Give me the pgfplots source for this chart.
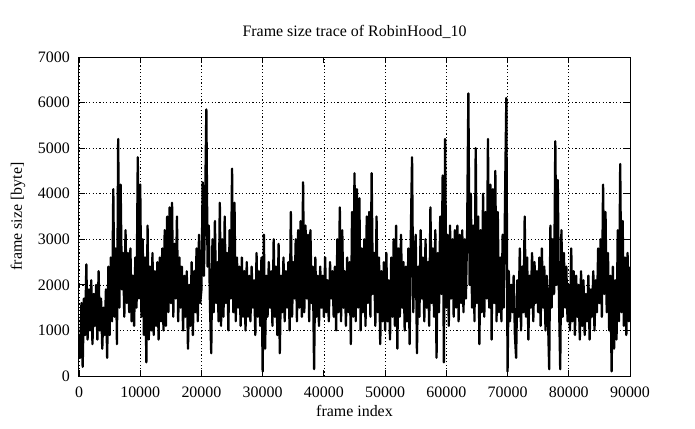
\documentclass[border=0pt]{standalone}
\usepackage{fontspec}
\setmainfont{Liberation Serif}
\usepackage{pgfplots}
\pgfplotsset{compat=1.18}
\usetikzlibrary{calc}

\begin{document}
\fontsize{16}{19}\selectfont
\begin{tikzpicture}
\begin{axis}[
    scale only axis,
    width=551bp, height=319bp,
    xmin=0, xmax=90000, ymin=0, ymax=7000,
    xtick={0,10000,...,90000},
    ytick={0,1000,...,7000},
    scaled ticks=false,
    /pgf/number format/.cd, fixed, 1000 sep={}, assume math mode=true, /pgfplots/.cd,
    tick align=inside,
    major tick length=6bp,
    tick style={black, line width=0.8bp},
    axis line style={black, line width=1bp},
    grid=major,
    grid style={black, line width=0.7bp, dash pattern=on 1.2bp off 2.2bp},
    xticklabel style={anchor=north, inner sep=0pt, yshift=-10.5bp},
    yticklabel style={anchor=east, inner sep=0pt, xshift=-9bp},
    title={Frame size trace of RobinHood\_10},
    title style={at={(axis description cs:0.5,1)}, anchor=base, yshift=14.5bp, inner sep=0pt},
    xlabel={frame index},
    xlabel style={at={(axis description cs:0.5,-0.1097)}, anchor=center, inner sep=0pt},
    ylabel={frame size [byte]},
    ylabel style={at={(axis description cs:-0.1107,0.5)}, anchor=center, inner sep=0pt},
]
\addplot[black, line width=2.3bp, line join=round, mark=none] coordinates {
(0,900)(200,400)(400,1600)(600,200)(800,1700)(1000,900)(1200,2450)(1400,800)(1600,1900)(1800,1000)(2000,2100)(2200,700)(2400,1800)(2600,1100)(2800,2000)(3000,800)(3200,2300)(3400,1000)(3600,1700)(3800,600)(4000,1500)(4200,900)(4400,1900)(4600,400)(4800,2400)
(5000,900)(5200,2600)(5400,1200)(5600,4100)(5800,1300)(6000,2800)(6200,700)(6400,5200)(6600,1500)(6800,4200)(7000,1900)(7200,2700)(7400,1300)(7600,3200)(7800,1600)(8000,2700)(8200,1400)(8400,2800)(8600,1200)(8800,2200)(9000,1100)(9200,2600)(9400,1500)(9600,4800)(9800,1700)
(10000,4200)(10200,1300)(10400,3000)(10600,900)(10800,2600)(11000,300)(11200,3300)(11400,800)(11600,2400)(11800,1000)(12000,2700)(12200,900)(12400,2300)(12600,1100)(12800,2500)(13000,800)(13200,2600)(13400,1200)(13600,2800)(13800,1000)(14000,3200)(14200,1100)(14400,3500)(14600,1400)(14800,3700)
(15000,1600)(15200,3800)(15400,1300)(15600,2900)(15800,1700)(16000,3500)(16200,1200)(16400,2600)(16600,1500)(16800,2400)(17000,1000)(17200,2200)(17400,1300)(17600,2300)(17800,600)(18000,2000)(18200,1100)(18400,2500)(18600,900)(18800,2300)(19000,1400)(19200,2800)(19400,1200)(19600,3100)(19800,1600)
(20000,1900)(20200,4250)(20400,2200)(20600,3700)(20800,5850)(21000,2400)(21200,3300)(21400,1500)(21600,500)(21800,3000)(22000,1400)(22200,3400)(22400,1600)(22600,2500)(22800,1200)(23000,3800)(23200,1100)(23400,3000)(23600,1300)(23800,3500)(24000,1600)(24200,2700)(24400,1000)(24600,3200)(24800,1700)
(25000,4550)(25200,1400)(25400,3800)(25600,1200)(25800,2600)(26000,1500)(26200,2400)(26400,1100)(26600,2600)(26800,1300)(27000,2300)(27200,1000)(27400,2500)(27600,1300)(27800,2200)(28000,1200)(28200,2400)(28400,1500)(28600,2100)(28800,900)(29000,2700)(29200,1300)(29400,2300)(29600,1100)(29800,2600)
(30000,100)(30200,3100)(30400,600)(30600,2200)(30800,1300)(31000,2500)(31200,1500)(31400,2300)(31600,1100)(31800,3000)(32000,1300)(32200,2400)(32400,900)(32600,2900)(32800,500)(33000,2200)(33200,1400)(33400,2600)(33600,1200)(33800,2300)(34000,1500)(34200,2500)(34400,1000)(34600,3600)(34800,1300)
(35000,2500)(35200,1700)(35400,3000)(35600,1200)(35800,3200)(36000,1500)(36200,3400)(36400,1300)(36600,4250)(36800,1400)(37000,3300)(37200,1700)(37400,3100)(37600,1200)(37800,3200)(38000,1600)(38200,2400)(38400,150)(38600,2600)(38800,1300)(39000,2200)(39200,1100)(39400,2400)(39600,1500)(39800,2200)
(40000,1300)(40200,2600)(40400,1400)(40600,2100)(40800,1200)(41000,2500)(41200,1700)(41400,2300)(41600,1300)(41800,2400)(42000,1000)(42200,3000)(42400,1400)(42600,3700)(42800,1200)(43000,3200)(43200,1500)(43400,2300)(43600,1100)(43800,2600)(44000,1400)(44200,2500)(44400,700)(44600,3600)(44800,1300)
(45000,4450)(45200,1200)(45400,4100)(45600,1500)(45800,3900)(46000,1000)(46200,2800)(46400,1400)(46600,3000)(46800,1100)(47000,3500)(47200,1600)(47400,3600)(47600,1300)(47800,4450)(48000,1800)(48200,2700)(48400,1100)(48600,3500)(48800,1400)(49000,2600)(49200,700)(49400,2300)(49600,1200)(49800,2500)
(50000,1000)(50200,2700)(50400,1200)(50600,2100)(50800,800)(51000,2600)(51200,1300)(51400,3000)(51600,1100)(51800,3300)(52000,600)(52200,2800)(52400,1300)(52600,3100)(52800,1500)(53000,2500)(53200,1000)(53400,2400)(53600,1200)(53800,2800)(54000,700)(54200,3100)(54400,4800)(54600,1400)(54800,2600)
(55000,3100)(55200,500)(55400,2400)(55600,1300)(55800,3200)(56000,1700)(56200,2600)(56400,1200)(56600,3000)(56800,1500)(57000,2500)(57200,1100)(57400,3700)(57600,1600)(57800,2800)(58000,1300)(58200,3200)(58400,400)(58600,2700)(58800,1400)(59000,3500)(59200,1800)(59400,4400)(59600,300)(59800,5200)
(60000,1500)(60200,3100)(60400,1100)(60600,3300)(60800,1700)(61000,3000)(61200,1300)(61400,3200)(61600,1500)(61800,3300)(62000,1200)(62200,3100)(62400,1600)(62600,3200)(62800,1400)(63000,3000)(63200,1700)(63400,3200)(63600,6200)(63800,2000)(64000,4000)(64200,1500)(64400,3300)(64600,1200)(64800,5000)
(65000,1600)(65200,3500)(65400,700)(65600,3200)(65800,1400)(66000,4000)(66200,1300)(66400,3600)(66600,1700)(66800,5200)(67000,1500)(67200,4200)(67400,800)(67600,4100)(67800,1600)(68000,4500)(68200,1200)(68400,3600)(68600,1400)(68800,2600)(69000,1200)(69200,3100)(69400,1500)(69600,4000)(69800,6100)
(70000,100)(70200,2300)(70400,1200)(70600,2000)(70800,1400)(71000,2200)(71200,900)(71400,400)(71600,2100)(71800,1300)(72000,2800)(72200,1000)(72400,2400)(72600,1400)(72800,3500)(73000,1300)(73200,2600)(73400,800)(73600,2200)(73800,1500)(74000,2700)(74200,1200)(74400,2500)(74600,1600)(74800,2300)
(75000,1400)(75200,2600)(75400,1100)(75600,2800)(75800,1500)(76000,2400)(76200,1000)(76400,2200)(76600,1300)(76800,150)(77000,3300)(77200,1500)(77400,3000)(77600,1800)(77800,5150)(78000,2000)(78200,4300)(78400,1700)(78600,150)(78800,3200)(79000,1300)(79200,2700)(79400,1500)(79600,2400)(79800,1200)
(80000,2000)(80200,1000)(80400,2800)(80600,1200)(80800,2300)(81000,900)(81200,2200)(81400,1300)(81600,2000)(81800,800)(82000,2300)(82200,1100)(82400,2100)(82600,900)(82800,1800)(83000,1200)(83200,2200)(83400,800)(83600,1900)(83800,1300)(84000,2300)(84200,1000)(84400,2100)(84600,1400)(84800,2800)
(85000,1600)(85200,3000)(85400,1300)(85600,4200)(85800,1800)(86000,3600)(86200,1400)(86400,2700)(86600,1000)(86800,2200)(87000,100)(87200,2400)(87400,600)(87600,2100)(87800,800)(88000,3200)(88200,1200)(88400,4650)(88600,1400)(88800,3400)(89000,1100)(89200,2600)(89400,900)(89600,2700)(89800,1200)(90000,2400)
};
\end{axis}
\path ($(current axis.south west)+(-79bp,-53bp)$) rectangle ($(current axis.south west)+(616bp,376bp)$);
\end{tikzpicture}
\end{document}
